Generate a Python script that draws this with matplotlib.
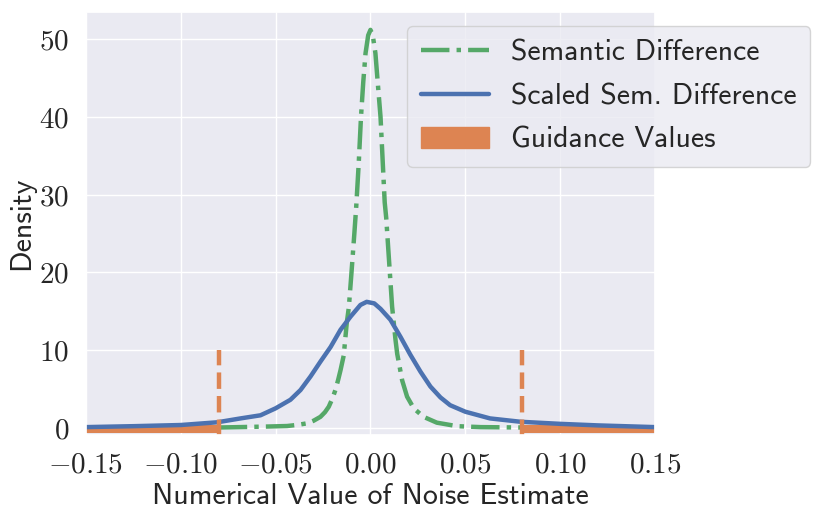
import numpy as np
import matplotlib
matplotlib.use("Agg")
import matplotlib.pyplot as plt
from matplotlib.ticker import FuncFormatter
from matplotlib.patches import Patch
import seaborn as sns

# --- DATA ---
sem_x = [-0.08, -0.065, -0.055, -0.044, -0.038, -0.0334, -0.03, -0.0264,
         -0.024, -0.022, -0.02, -0.0185, -0.017, -0.0158, -0.0141, -0.0125,
         -0.0114, -0.010, -0.0085, -0.0075, -0.0062, -0.005, -0.0038, -0.0026,
         -0.0012, 0.0, 0.0012, 0.0026, 0.0038, 0.0053, 0.0065, 0.0075, 0.0083,
         0.0102, 0.0114, 0.0132, 0.0141, 0.0167, 0.0193, 0.0228, 0.028, 0.035,
         0.0457, 0.058, 0.08]
sem_y = [0.03, 0.1, 0.15, 0.22, 0.38, 0.57, 0.9, 1.4,
         2.0, 2.7, 3.8, 4.85, 6.2, 7.4, 9.3, 13.5,
         15.5, 20.0, 25.0, 28.5, 34.0, 40.0, 44.5, 48.2,
         50.5, 51.2, 50.5, 48.2, 44.5, 40.0, 34.0, 29.0, 27.0,
         20.0, 15.6, 11.3, 9.5, 6.1, 4.0, 2.5, 1.4, 0.65,
         0.2, 0.08, 0.03]

scaled_x = [-0.15, -0.125, -0.10, -0.0808, -0.0685, -0.058, -0.05, -0.0422,
            -0.0369, -0.0316, -0.0264, -0.021, -0.0158, -0.0105, -0.0053,
            -0.002, 0.002, 0.0053, 0.0105, 0.0158, 0.021, 0.0264, 0.0316,
            0.0369, 0.042, 0.05, 0.063, 0.079, 0.10, 0.12, 0.15]
scaled_y = [0.08, 0.2, 0.35, 0.7, 1.2, 1.6, 2.5, 3.6,
            4.85, 6.6, 8.5, 10.4, 12.6, 14.3, 15.8,
            16.2, 16.0, 15.3, 13.9, 11.7, 9.4, 7.2, 5.3,
            3.9, 2.9, 2.06, 1.2, 0.77, 0.5, 0.3, 0.08]

guide_thr = 0.08
guide_height = 10
band_left = [-0.15, -guide_thr]
band_right = [guide_thr, 0.15]

xticks = [-0.15, -0.10, -0.05, 0.0, 0.05, 0.10, 0.15]
yticks = [0, 10, 20, 30, 40, 50]

# --- STYLE ---
sns.set_theme(style="darkgrid")
plt.rcParams['font.family'] = ['cmss10', 'DejaVu Sans']
plt.rcParams['mathtext.fontset'] = 'cm'
plt.rcParams['axes.unicode_minus'] = False
pal = sns.color_palette("deep")
blue, orange, green = pal[0], pal[1], pal[2]

fig = plt.figure(figsize=(8.22, 5.21), dpi=100)
ax = fig.add_axes([0.1046, 0.165, 0.6922, 0.812])

ax.plot(sem_x, sem_y, color=green, lw=3.2, ls='-.', label='Semantic Difference')
ax.plot(scaled_x, scaled_y, color=blue, lw=3.2, ls='-',
        solid_joinstyle='round', label='Scaled Sem. Difference')

for b in (band_left, band_right):
    ax.fill_between(b, -0.65, 0.3, color=orange, lw=0)
for xv in (-guide_thr, guide_thr):
    ax.plot([xv, xv], [-1, guide_height], color=orange, lw=3.2, ls='--')

ax.set_xlim(-0.15, 0.15)
ax.set_ylim(-0.94, 53.5)
ax.set_xticks(xticks)
ax.set_yticks(yticks)
ax.xaxis.set_major_formatter(FuncFormatter(lambda v, p: f'${v:.2f}$'))
ax.yaxis.set_major_formatter(FuncFormatter(lambda v, p: f'${v:.0f}$'))
ax.tick_params(labelsize=21, pad=6)

ax.set_xlabel("Numerical Value of Noise Estimate", fontsize=21.5, labelpad=3)
ax.set_ylabel("Density", fontsize=21.5, labelpad=3)

handles, labels = ax.get_legend_handles_labels()
handles.append(Patch(color=orange))
labels.append('Guidance Values')
fig.legend(handles, labels, loc='upper right', bbox_to_anchor=(0.986, 0.95),
           fontsize=21.4, handlelength=2.3, labelspacing=0.56, borderpad=0.45,
           handletextpad=0.75, borderaxespad=0, framealpha=0.8)

fig.savefig("out.png", dpi=100)
